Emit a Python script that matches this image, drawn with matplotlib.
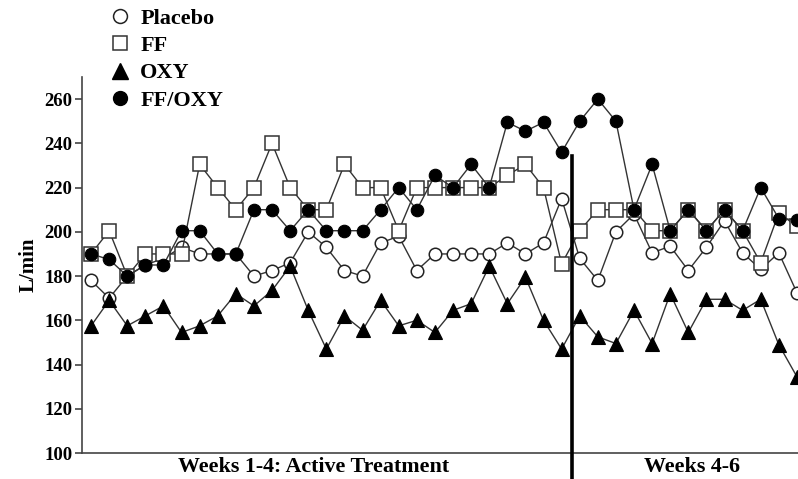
import matplotlib
matplotlib.use("Agg")
import matplotlib.pyplot as plt
from matplotlib.lines import Line2D

plt.rcParams['font.family'] = ['Liberation Serif', 'DejaVu Serif']
plt.rcParams['font.weight'] = 'bold'

labels = ["Placebo", "FF", "OXY", "FF/OXY"]
placebo = [178, 170, 180, 185, 188, 193, 190, 190, 190, 180, 182.5, 186, 200, 193,
           182.5, 180, 195, 198, 182.5, 190, 190, 190, 190, 195, 190, 195, 215,
           188, 178, 200, 208, 190.5, 193.5, 182.5, 193, 205, 190.5, 183, 190.5, 172.5]
ff = [190, 200.5, 180, 190, 190, 190, 230.5, 220, 210, 220, 240, 220, 210, 210,
      230.5, 220, 220, 200.5, 220, 220, 220, 220, 220, 225.5, 230.5, 220, 185.5,
      200.5, 210, 210, 210, 200.5, 200.5, 210, 200.5, 210, 200.5, 186, 208.5, 202.5]
oxy = [157.5, 169, 157.5, 162, 166.5, 154.5, 157.5, 162, 172, 166.5, 173.5, 184.5,
       164.5, 147, 162, 155.5, 169, 157.5, 160, 154.5, 164.5, 167.5, 184.5, 167.5,
       179.5, 160, 147, 162, 152.5, 149.5, 164.5, 149.5, 172, 154.5, 169.5, 169.5,
       164.5, 169.5, 149, 134.5]
ffoxy = [190, 187.5, 180, 185, 185, 200.5, 200.5, 190, 190, 210, 210, 200.5, 210,
         200.5, 200.5, 200.5, 210, 220, 210, 225.5, 220, 230.5, 220, 249.5, 245.5,
         249.5, 236, 250, 260, 250, 210, 230.5, 200.5, 210, 200.5, 210, 200.5, 220,
         206, 205.5]
yticks = [100, 120, 140, 160, 180, 200, 220, 240, 260]
phase_labels = ["Weeks 1-4: Active Treatment", "Weeks 4-6"]
phase_split = 26.57

fig = plt.figure(figsize=(7.98, 4.79), dpi=100)
ax = fig.add_axes([82/798, 26/479, 733/798, 376/479])
x = list(range(len(placebo)))

lc = '#333333'
ax.plot(x, placebo, color=lc, lw=1.0, marker='o', ms=9, mfc='white', mec='#222222', mew=1.1, zorder=3)
ax.plot(x, ff, color=lc, lw=1.0, marker='s', ms=9.5, mfc='white', mec='#333333', mew=1.1, zorder=4)
ax.plot(x, oxy, color=lc, lw=1.0, marker='^', ms=10.5, mfc='black', mec='black', mew=0.8, zorder=5)
ax.plot(x, ffoxy, color=lc, lw=1.0, marker='o', ms=9, mfc='black', mec='black', mew=0.8, zorder=6)

ax.set_xlim(-0.5, 40)
ax.set_ylim(100, 270)
ax.set_yticks(yticks)
ax.set_yticklabels([str(v) for v in yticks], fontsize=13.5, fontweight='bold')
ax.set_xticks([])
for s in ['top', 'right']:
    ax.spines[s].set_visible(False)
for s in ['left', 'bottom']:
    ax.spines[s].set_color('#444444')
    ax.spines[s].set_linewidth(1.2)
ax.tick_params(axis='y', direction='out', length=5, width=1.2, color='#444444', pad=2)
ax.set_ylabel("L/min", fontsize=15, fontweight='bold', labelpad=4)

# phase divider
ax.plot([phase_split, phase_split], [88, 234.5], color='black', lw=2.6, clip_on=False, zorder=7)

ax.text(314/798, 12/479, phase_labels[0], transform=fig.transFigure, ha='center', va='center',
        fontsize=15.8, fontweight='bold')
ax.text(692/798, 12/479, phase_labels[1], transform=fig.transFigure, ha='center', va='center',
        fontsize=15.8, fontweight='bold')

handles = [
    Line2D([], [], ls='none', marker='o', ms=10, mfc='white', mec='#222222', mew=1.1),
    Line2D([], [], ls='none', marker='s', ms=10.5, mfc='white', mec='#333333', mew=1.1),
    Line2D([], [], ls='none', marker='^', ms=11, mfc='black', mec='black'),
    Line2D([], [], ls='none', marker='o', ms=10, mfc='black', mec='black'),
]
fig.legend(handles, labels, loc='upper left', bbox_to_anchor=(109/798, 1 - 8.5/479),
           frameon=False, handlelength=1.0, handletextpad=0.4, labelspacing=0.3,
           prop={'family': 'Liberation Serif', 'weight': 'bold', 'size': 16},
           borderaxespad=0, borderpad=0)

fig.savefig("out.png", dpi=100)
